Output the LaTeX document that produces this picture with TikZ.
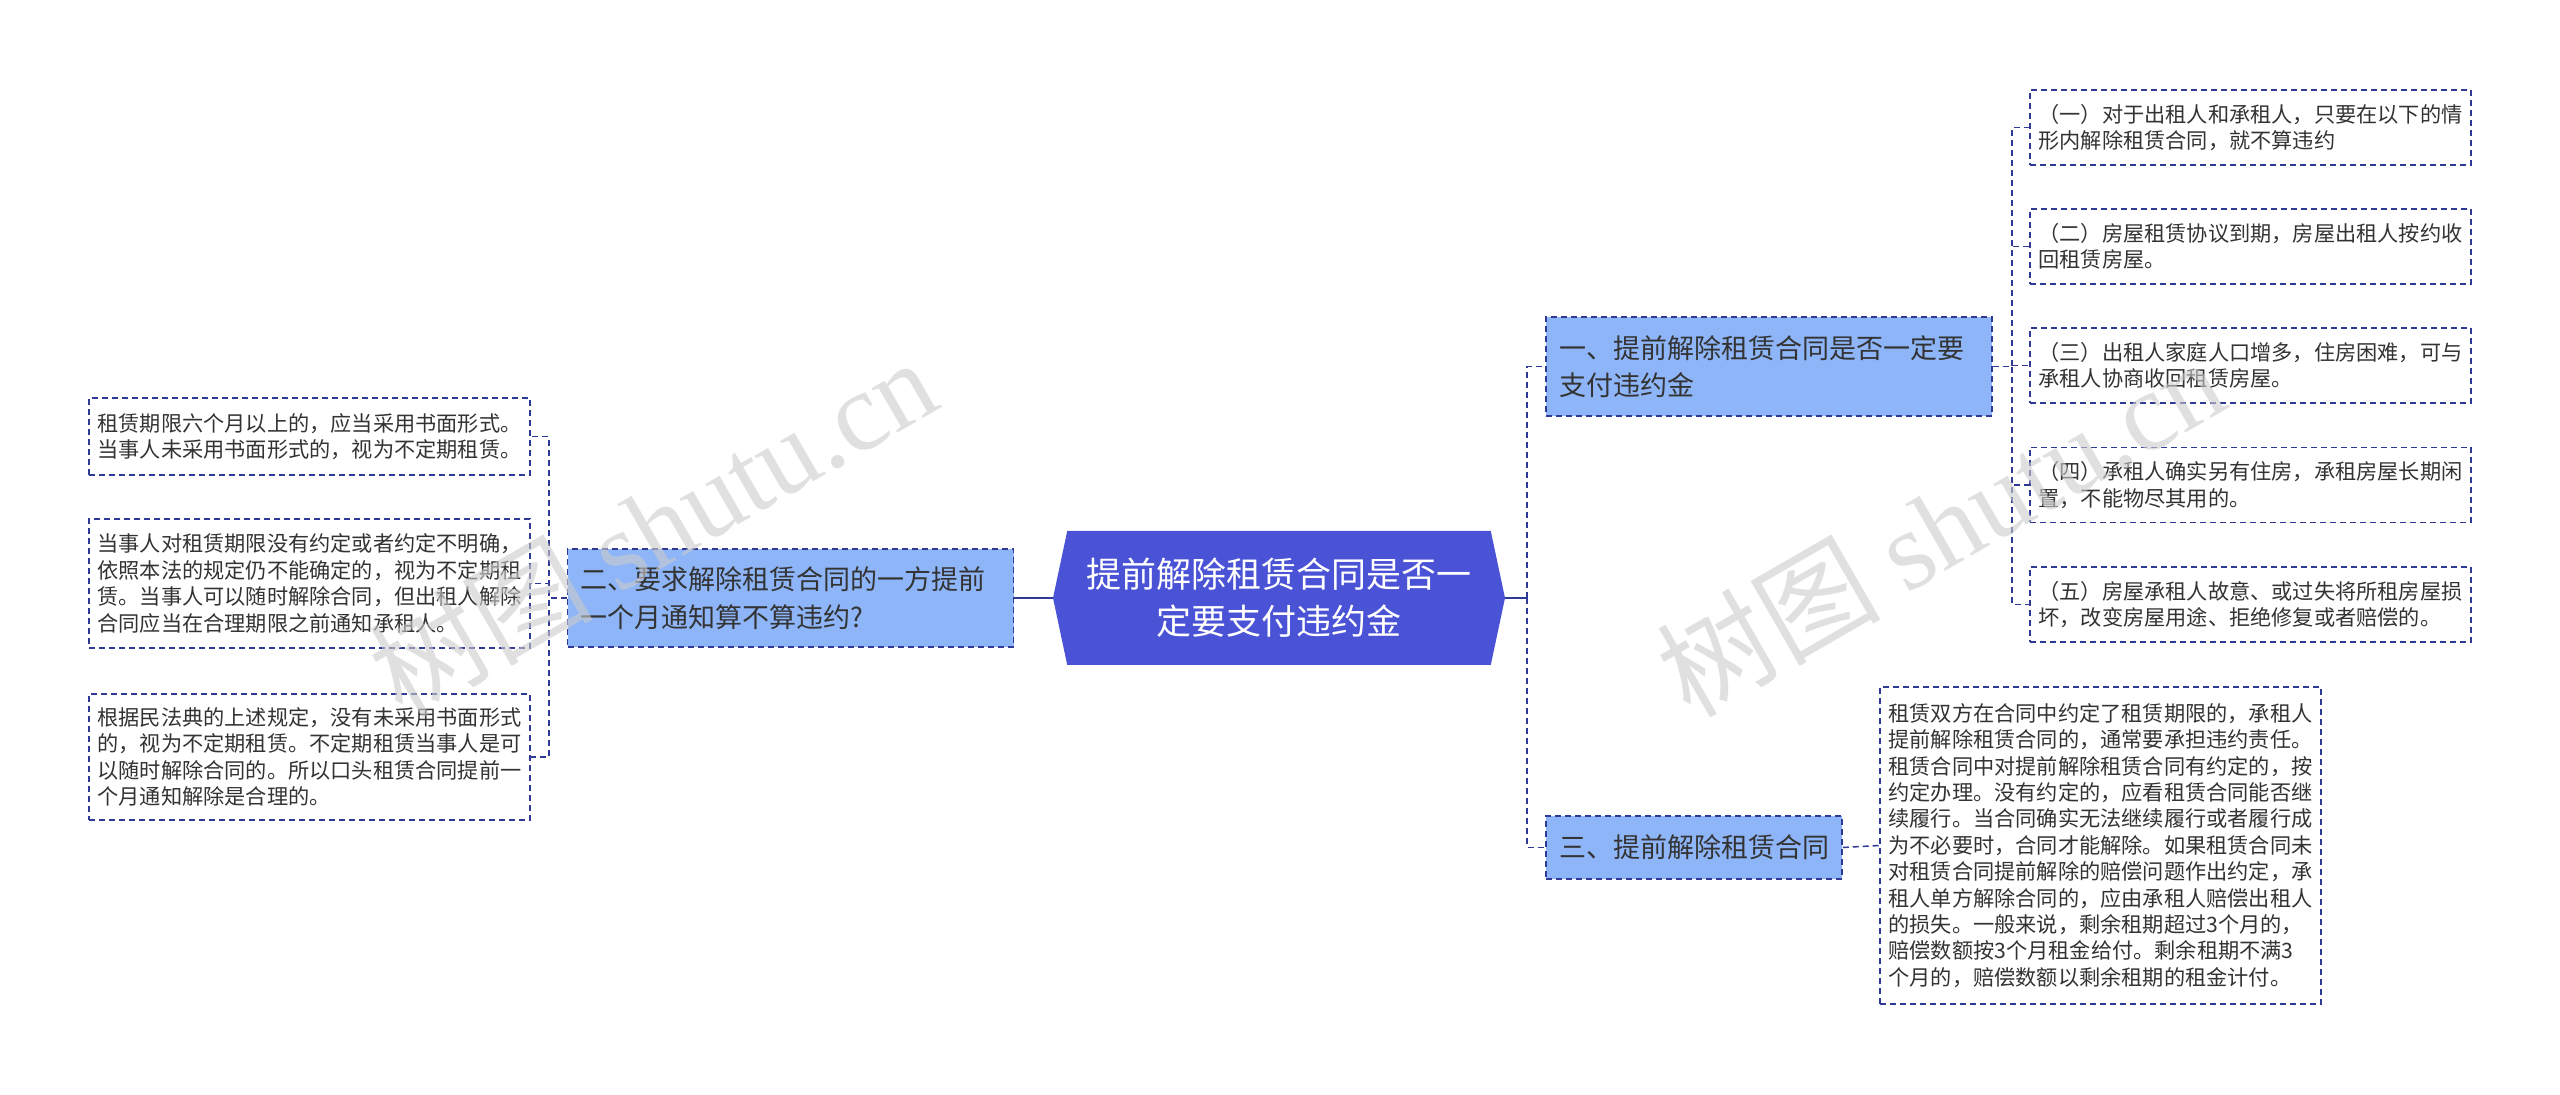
\documentclass[tikz,border=0pt]{standalone}
\usepackage{fontspec}
\setmainfont{Noto Sans CJK SC}
\newfontfamily\wmfont{Liberation Serif}
\usetikzlibrary{shapes.symbols}
\definecolor{hexblue}{HTML}{4A52D6}
\definecolor{boxblue}{HTML}{8DB5F8}
\definecolor{linkblue}{HTML}{2F3A96}
\definecolor{textgray}{HTML}{333333}
\begin{document}
\begin{tikzpicture}[x=0.5pt,y=-0.5pt]
\tikzstyle{root}=[signal, signal to=east and west, signal pointer angle=156, fill=hexblue, text=white, align=center, font=\fontsize{17.5}{23.5}\selectfont, minimum width=226pt, minimum height=67pt, inner sep=0pt]
\tikzstyle{topic}=[rectangle, draw=linkblue, line width=0.75pt, dash pattern=on 3pt off 2pt, fill=boxblue, text=textgray, align=left, font=\fontsize{13.5}{18.8}\selectfont, inner xsep=6.5pt, inner ysep=4pt]
\tikzstyle{leaf}=[rectangle, draw=linkblue, line width=0.7pt, dash pattern=on 3pt off 2pt, fill=white, text=textgray, align=left, font=\fontsize{10.6}{13.2}\selectfont, text width=212pt, inner xsep=4.25pt, inner ysep=4pt]
\tikzstyle{link}=[draw=linkblue, line width=0.75pt, dash pattern=on 3pt off 2pt]
\tikzstyle{trunk}=[draw=linkblue, line width=1pt]
\tikzstyle{wmark}=[text=gray!40, opacity=0.6, rotate=30, font=\fontsize{56}{56}\selectfont]
\useasboundingbox (0,0) rectangle (2560,1095);
\node[root] (main) at (1279,598) {提前解除租赁合同是否一\\定要支付违约金};
\node[topic, text width=210pt, minimum height=49pt] (er) at (790.5,598) {二、要求解除租赁合同的一方提前\\一个月通知算不算违约?};
\node[topic, text width=210pt, minimum height=49.5pt] (yi) at (1769,366.5) {一、提前解除租赁合同是否一定要\\支付违约金};
\node[topic, text width=135pt, minimum height=31.5pt] (san) at (1694,847.5) {三、提前解除租赁合同};
\node[leaf, minimum height=38.5pt] (ll1) at (309.5,436.5) {租赁期限六个月以上的，应当采用书面形式。\\当事人未采用书面形式的，视为不定期租赁。};
\node[leaf, minimum height=64.5pt] (ll2) at (309.5,583.5) {当事人对租赁期限没有约定或者约定不明确，\\依照本法的规定仍不能确定的，视为不定期租\\赁。当事人可以随时解除合同，但出租人解除\\合同应当在合理期限之前通知承租人。};
\node[leaf, minimum height=63pt] (ll3) at (309.5,757) {根据民法典的上述规定，没有未采用书面形式\\的，视为不定期租赁。不定期租赁当事人是可\\以随时解除合同的。所以口头租赁合同提前一\\个月通知解除是合理的。};
\node[leaf, minimum height=37.5pt] (r1) at (2250.5,127.5) {（一）对于出租人和承租人，只要在以下的情\\形内解除租赁合同，就不算违约};
\node[leaf, minimum height=37.5pt] (r2) at (2250.5,246.5) {（二）房屋租赁协议到期，房屋出租人按约收\\回租赁房屋。};
\node[leaf, minimum height=37.5pt] (r3) at (2250.5,365.5) {（三）出租人家庭人口增多，住房困难，可与\\承租人协商收回租赁房屋。};
\node[leaf, minimum height=37.5pt] (r4) at (2250.5,485) {（四）承租人确实另有住房，承租房屋长期闲\\置，不能物尽其用的。};
\node[leaf, minimum height=37.5pt] (r5) at (2250.5,604.5) {（五）房屋承租人故意、或过失将所租房屋损\\坏，改变房屋用途、拒绝修复或者赔偿的。};
\node[leaf, minimum height=158.5pt] (sc) at (2100.5,845.5) {租赁双方在合同中约定了租赁期限的，承租人\\提前解除租赁合同的，通常要承担违约责任。\\租赁合同中对提前解除租赁合同有约定的，按\\约定办理。没有约定的，应看租赁合同能否继\\续履行。当合同确实无法继续履行或者履行成\\为不必要时，合同才能解除。如果租赁合同未\\对租赁合同提前解除的赔偿问题作出约定，承\\租人单方解除合同的，应由承租人赔偿出租人\\的损失。一般来说，剩余租期超过3个月的，\\赔偿数额按3个月租金给付。剩余租期不满3\\个月的，赔偿数额以剩余租期的租金计付。};
\coordinate (lbus) at (549,598);
\coordinate (rbus) at (1527,598);
\coordinate (ybus) at (2012,366.5);
\draw[trunk] (main.west) -- (er.east);
\draw[trunk] (main.east) -- (rbus);
\foreach \n in {ll1,ll2,ll3} \draw[link] (er.west) -- (lbus) |- (\n.east);
\foreach \n in {yi,san} \draw[link] (rbus) |- (\n.west);
\foreach \n in {r1,r2,r3,r4,r5} \draw[link] (yi.east) -- (ybus) |- (\n.west);
\draw[link] (san.east) -- (sc.west);
\node[wmark] (wm1) at (652,526) {树图 {\wmfont shutu.cn}};
\node[wmark] (wm2) at (1940,526) {树图 {\wmfont shutu.cn}};
\end{tikzpicture}
\end{document}
